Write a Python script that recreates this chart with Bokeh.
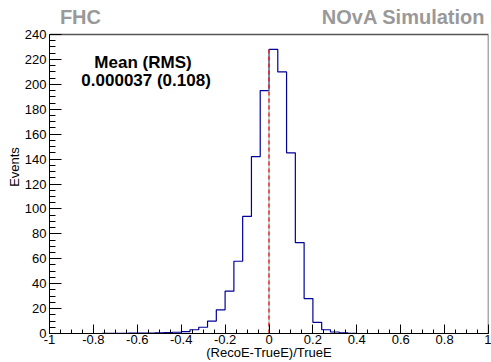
from bokeh.plotting import figure
from bokeh.models import Range1d, FixedTicker, CustomJSTickFormatter, Label
from bokeh.embed import file_html
from bokeh.resources import INLINE

# ---- data ----
bin_edges = [round(-1 + 0.04 * i, 2) for i in range(51)]
counts = [0, 0, 0, 0, 0, 0, 0.1, 0.2, 0.2, 0.3,
          0.3, 0.4, 0.5, 0.7, 1.0, 1.5, 3, 5, 10, 19,
          34, 58, 94, 142, 195, 228, 210, 145, 73, 28,
          9, 3, 1.2, 0.5, 0.2, 0, 0, 0, 0, 0,
          0, 0, 0, 0, 0, 0, 0, 0, 0, 0]
x_ticks = [round(-1 + 0.2 * i, 1) for i in range(11)]
x_minor = [round(-1 + 0.05 * i, 2) for i in range(41)]
y_ticks = list(range(0, 241, 20))
y_minor = list(range(0, 241, 5))
x_lo, x_hi = -1, 1
y_lo, y_hi = 0, 240
mean_line_x = 0.0
mean_line_top = 228
xlabel = "(RecoE-TrueE)/TrueE"
ylabel = "Events"
stats_title = "Mean (RMS)"
stats_value = "0.000037 (0.108)"
left_tag = "FHC"
right_tag = "NOvA Simulation"

FONT = "Liberation Sans"

# frame extends to canvas top so the header texts live inside it
top_pad = 34 * (y_hi - y_lo) / 299.0
p = figure(width=491, height=362, output_backend="svg", toolbar_location=None,
           x_range=Range1d(x_lo, x_hi), y_range=Range1d(y_lo, y_hi + top_pad),
           min_border_left=49, min_border_right=3, min_border_top=0,
           min_border_bottom=29)
p.background_fill_color = "white"
p.border_fill_color = "white"
p.grid.visible = False
p.outline_line_color = None

for ax, ticks, minor in ((p.xaxis[0], x_ticks, x_minor), (p.yaxis[0], y_ticks, y_minor)):
    ax.ticker = FixedTicker(ticks=ticks, minor_ticks=minor)
    ax.major_tick_out = 0
    ax.minor_tick_out = 0
    ax.axis_line_color = "black"
    ax.major_tick_line_color = "black"
    ax.minor_tick_line_color = "black"
    ax.major_label_text_font = FONT
    ax.major_label_text_font_size = "13px"
    ax.major_label_text_color = "black"
    ax.axis_label_text_font = FONT
    ax.axis_label_text_font_size = "13px"
    ax.axis_label_text_font_style = "normal"
    ax.axis_label_text_color = "black"

p.yaxis[0].bounds = (y_lo, y_hi)
p.xaxis[0].axis_label = xlabel
p.yaxis[0].axis_label = ylabel
p.xaxis[0].axis_label_standoff = -2
p.yaxis[0].axis_label_standoff = 0
p.xaxis[0].major_tick_in = 9
p.xaxis[0].minor_tick_in = 4
p.yaxis[0].major_tick_in = 12
p.yaxis[0].minor_tick_in = 6
p.xaxis[0].major_label_standoff = 1
p.yaxis[0].major_label_standoff = 3
p.xaxis[0].formatter = CustomJSTickFormatter(code="return String(Math.round(tick*10)/10);")

# frame top and right edges
p.line(x=[x_lo, x_hi, x_hi], y=[y_hi, y_hi, y_lo], line_color="#555555", line_width=1.5)

# histogram outline
xs = bin_edges
ys = counts + [counts[-1]]
p.step(x=xs, y=ys, mode="after", line_color="#000099", line_width=1.2)

# mean line
p.line(x=[mean_line_x, mean_line_x], y=[0, mean_line_top], line_color="#88b8a8", line_width=1)
p.line(x=[mean_line_x, mean_line_x], y=[0, mean_line_top], line_color="#ff0000",
       line_width=1.2, line_dash="4 3")

# texts
def lab(x, y, text, size, color="black", bold=False, align="center"):
    l = Label(x=x, y=y, text=text, text_font=FONT, text_font_size=size,
              text_color=color, text_font_style="bold" if bold else "normal",
              text_align=align, text_baseline="middle", level="overlay")
    p.add_layout(l)

lab(-0.574, 217.5, stats_title, "17px", bold=True)
lab(-0.56, 203, stats_value, "17px", bold=True)
lab(-0.859, 254, left_tag, "20px", color="#999999", bold=True)
lab(0.985, 254, right_tag, "20px", color="#999999", bold=True, align="right")

open("out.html", "w").write(file_html(p, INLINE))
